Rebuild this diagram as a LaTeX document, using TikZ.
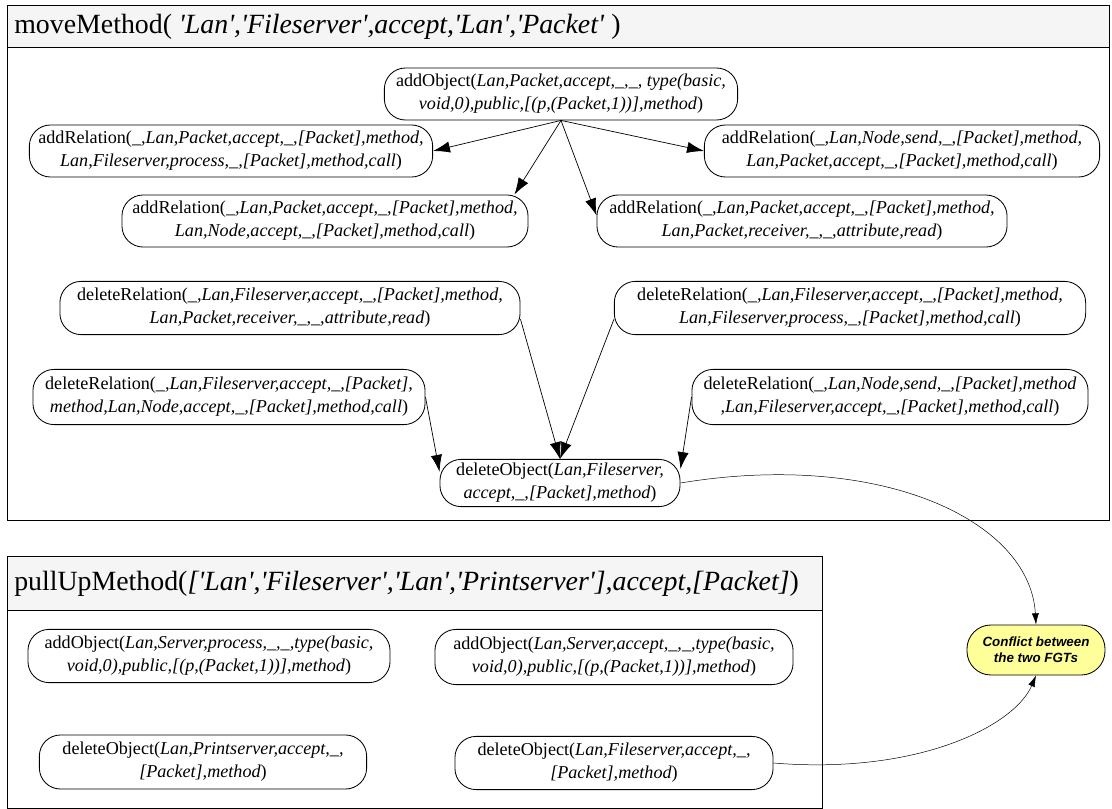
\documentclass[tikz,border=0pt]{standalone}
\usepackage{fontspec}
\setmainfont{Liberation Serif}
\newfontfamily\notefont{Liberation Sans}
\usetikzlibrary{arrows.meta}
\definecolor{hdrgray}{RGB}{245,245,245}
\definecolor{notefill}{RGB}{255,255,153}
\newcommand{\q}{\textquotesingle}
\tikzset{
  fgt/.style={draw, line width=0.6pt, rounded corners=15pt, align=center, inner sep=1pt,
    font=\fontsize{12.9}{16.5}\selectfont, minimum height=1.3cm},
  hdr/.style={anchor=west, inner sep=0pt, font=\fontsize{19.8}{22}\selectfont},
  dep/.style={-{Latex[length=12pt,width=8pt]}, line width=0.5pt},
  cfl/.style={-{Latex[length=8pt,width=5pt]}, line width=0.35pt},
}

\begin{document}
\begin{tikzpicture}[x=0.025cm,y=-0.025cm]
    \useasboundingbox (0,0) rectangle (1112,809);

    % moveMethod panel
    \draw[line width=0.6pt, fill=hdrgray] (7,5) rectangle (1109,47);
    \draw[line width=0.6pt] (7,47) rectangle (1109,520);
    \node[hdr] (mmHead) at (14,27) {moveMethod( \textit{\q Lan\q,\q Fileserver\q,accept,\q Lan\q,\q Packet\q} )};

    \node[fgt, minimum width=8.83cm] (addObj) at (561,94)
      {addObject(\textit{Lan,Packet,accept,\_,\_, type(basic,}\\\textit{void,0),public,[(p,(Packet,1))],method})};
    \node[fgt, minimum width=10.08cm] (relA) at (231,151)
      {addRelation(\textit{\_,Lan,Packet,accept,\_,[Packet],method,}\\\textit{Lan,Fileserver,process,\_,[Packet],method,call})};
    \node[fgt, minimum width=9.88cm] (relB) at (902,151)
      {addRelation(\textit{\_,Lan,Node,send,\_,[Packet],method,}\\\textit{Lan,Packet,accept,\_,[Packet],method,call})};
    \node[fgt, minimum width=10.15cm] (relC) at (325,221)
      {addRelation(\textit{\_,Lan,Packet,accept,\_,[Packet],method,}\\\textit{Lan,Node,accept,\_,[Packet],method,call})};
    \node[fgt, minimum width=10.25cm] (relD) at (802,221)
      {addRelation(\textit{\_,Lan,Packet,accept,\_,[Packet],method,}\\\textit{Lan,Packet,receiver,\_,\_,attribute,read})};

    \node[fgt, minimum width=11.5cm, minimum height=1.33cm] (delA) at (290,308)
      {deleteRelation(\textit{\_,Lan,Fileserver,accept,\_,[Packet],method,}\\\textit{Lan,Packet,receiver,\_,\_,attribute,read})};
    \node[fgt, minimum width=11.78cm, minimum height=1.33cm] (delB) at (850,308)
      {deleteRelation(\textit{\_,Lan,Fileserver,accept,\_,[Packet],method,}\\\textit{Lan,Fileserver,process,\_,[Packet],method,call})};
    \node[fgt, minimum width=9.8cm, minimum height=1.38cm] (delC) at (229,397)
      {deleteRelation(\textit{\_,Lan,Fileserver,accept,\_,[Packet],}\\\textit{method,Lan,Node,accept,\_,[Packet],method,call})};
    \node[fgt, minimum width=9.9cm, minimum height=1.38cm] (delD) at (890,397)
      {deleteRelation(\textit{\_,Lan,Node,send,\_,[Packet],method}\\\textit{,Lan,Fileserver,accept,\_,[Packet],method,call})};
    \node[fgt, minimum width=6cm, minimum height=1.18cm] (delObj) at (560,483)
      {deleteObject(\textit{Lan,Fileserver,}\\\textit{accept,\_,[Packet],method})};

    \draw[dep] (addObj.south) -- (relA.east);
    \draw[dep] (addObj.south) -- (relB.west);
    \draw[dep] (addObj.south) -- ([xshift=-10pt]relC.north east);
    \draw[dep] (addObj.south) -- ([yshift=4pt]relD.west);

    \draw[dep] ([yshift=-8pt]delA.east) -- (delObj.north);
    \draw[dep] ([yshift=-8pt]delB.west) -- (delObj.north);
    \draw[dep] (delC.east) -- ([yshift=8pt]delObj.west);
    \draw[dep] (delD.west) -- ([yshift=10pt]delObj.east);

    % pullUpMethod panel
    \draw[line width=0.6pt, fill=hdrgray] (7,556) rectangle (822,610);
    \draw[line width=0.6pt] (7,610) rectangle (822,808);
    \node[hdr] (puHead) at (14,584) {pullUpMethod(\textit{[\q Lan\q,\q Fileserver\q,\q Lan\q,\q Printserver\q],accept,[Packet]})};

    \node[fgt, minimum width=9.05cm, minimum height=1.33cm] (puObjA) at (209,656)
      {addObject(\textit{Lan,Server,process,\_,\_,type(basic,}\\\textit{void,0),public,[(p,(Packet,1))],method})};
    \node[fgt, minimum width=8.95cm, minimum height=1.38cm] (puObjB) at (614,657)
      {addObject(\textit{Lan,Server,accept,\_,\_,type(basic,}\\\textit{void,0),public,[(p,(Packet,1))],method})};
    \node[fgt, minimum width=8.18cm, minimum height=1.35cm] (puDelP) at (203,762)
      {deleteObject(\textit{Lan,Printserver,accept,\_,}\\\textit{[Packet],method})};
    \node[fgt, minimum width=7.95cm, minimum height=1.33cm] (puDelF) at (614,763)
      {deleteObject(\textit{Lan,Fileserver,accept,\_,}\\\textit{[Packet],method})};

    % the clash between both transformations
    \node[draw, line width=0.6pt, fill=notefill, rounded corners=17pt, minimum width=3.45cm, minimum height=1.25cm,
      align=center, font=\notefont\bfseries\itshape\fontsize{9.5}{11.5}\selectfont] (conflict) at (1036,650)
      {Conflict between\\the two FGTs};

    \draw[cfl] (delObj.east) .. controls (880,450) and (1030,520) .. (conflict.north);
    \draw[cfl] (puDelF.east) .. controls (920,775) and (1015,725) .. (conflict.south);
\end{tikzpicture}
\end{document}
